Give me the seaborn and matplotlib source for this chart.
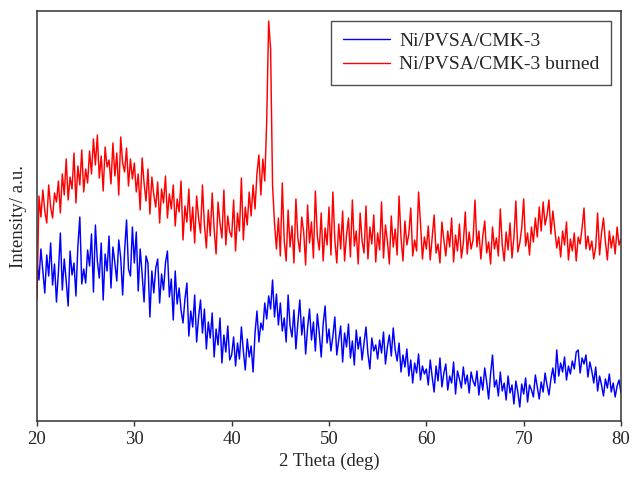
import matplotlib
matplotlib.use('Agg')
import matplotlib.pyplot as plt
import numpy as np
import pandas as pd
import seaborn as sns

# 2 theta grid, 0.2 deg step from 20 to 80
two_theta = np.round(np.arange(20, 80.001, 0.2), 1)

# intensity (a.u.), one row per 5 deg
plain = [
    160, 141, 172, 150, 128, 166, 145, 178, 136, 157, 119, 149, 188, 131, 162, 140, 115, 170, 146, 158, 125, 175, 204, 137, 152,
    138, 171, 155, 187, 129, 196, 160, 143, 178, 121, 167, 150, 185, 133, 174, 158, 140, 181, 163, 126, 170, 201, 152, 145, 194,
    158, 189, 130, 172, 147, 119, 165, 158, 104, 150, 128, 153, 162, 118, 147, 131, 158, 170, 124, 142, 101, 150, 117, 133, 111,
    98, 122, 138, 85, 110, 94, 126, 79, 104, 121, 88, 112, 72, 99, 83, 108, 64, 92, 76, 103, 58, 86, 69, 95, 61,
    66, 84, 55, 78, 62, 94, 70, 51, 82, 64, 75, 49, 88, 110, 79, 98, 91, 118, 102, 125, 112, 141, 104, 127, 96,
    118, 90, 103, 79, 126, 95, 84, 111, 72, 98, 121, 86, 104, 67, 93, 112, 81, 99, 70, 107, 88, 64, 97, 115, 78,
    92, 70, 85, 104, 66, 81, 95, 59, 88, 74, 97, 63, 80, 56, 91, 72, 84, 61, 78, 94, 67, 52, 83, 70, 76,
    62, 81, 68, 89, 57, 74, 86, 65, 93, 71, 60, 78, 49, 66, 54, 72, 45, 61, 38, 58, 48, 67, 41, 55, 47,
    52, 36, 61, 44, 29, 55, 40, 63, 34, 48, 57, 31, 45, 38, 59, 27, 50, 42, 33, 54, 37, 46, 28, 49, 40,
    35, 50, 26, 44, 31, 53, 39, 22, 47, 66, 34, 41, 25, 49, 30, 38, 21, 45, 28, 36, 17, 40, 29, 14, 37,
    27, 43, 19, 36, 31, 24, 46, 34, 22, 39, 29, 48, 36, 26, 42, 53, 38, 71, 45, 58, 49, 64, 41, 55, 47,
    60, 52, 69, 71, 48, 63, 57, 66, 44, 59, 50, 38, 54, 30, 45, 36, 25, 42, 33, 47, 29, 38, 24, 35, 41, 28,
]

burned = [
    122, 225, 204, 231, 210, 198, 236, 214, 203, 228, 219, 240, 208, 247, 226, 262, 221, 244, 232, 268, 218, 255, 236, 271, 229,
    252, 238, 270, 247, 282, 256, 286, 243, 265, 230, 274, 254, 261, 237, 278, 245, 268, 226, 284, 258, 249, 273, 235, 262, 242,
    258, 229, 247, 211, 263, 238, 220, 252, 207, 244, 226, 214, 239, 198, 232, 218, 245, 203, 227, 212, 236, 195, 222, 209, 240,
    181, 215, 199, 232, 190, 214, 178, 225, 203, 188, 236, 196, 173, 211, 185, 228, 192, 167, 219, 198, 183, 231, 176, 205, 189,
    184, 221, 170, 208, 190, 243, 181, 214, 196, 229, 205, 236, 212, 248, 266, 226, 262, 240, 300, 400, 372, 236, 198, 172, 203,
    165, 238, 180, 160, 211, 174, 195, 158, 222, 183, 169, 204, 189, 156, 216, 178, 199, 163, 230, 185, 171, 208, 160, 193, 176,
    214, 166, 229, 181, 158, 197, 172, 210, 160, 186, 203, 164, 221, 175, 190, 157, 208, 180, 168, 215, 162, 194, 177, 206, 159,
    188, 171, 219, 163, 196, 180, 157, 205, 174, 192, 166, 225, 183, 160, 200, 176, 187, 213, 165, 181, 170, 229, 198, 162, 184,
    172, 195, 161, 183, 206, 168, 177, 158, 199, 181, 165, 190, 174, 203, 159, 186, 170, 197, 163, 178, 209, 167, 189, 172, 181,
    221, 174, 190, 162, 185, 200, 168, 179, 157, 194, 172, 183, 165, 212, 176, 160, 189, 171, 198, 163, 184, 220, 169, 178, 193,
    222, 175, 188, 166, 194, 179, 203, 184, 214, 190, 219, 196, 206, 221, 187, 210, 192, 173, 184, 164, 190, 176, 199, 161, 182,
    170, 188, 160, 184, 177, 193, 213, 172, 185, 171, 180, 162, 174, 208, 166, 188, 203, 179, 161, 190, 173, 185, 167, 194, 176, 182,
]

labels = ['Ni/PVSA/CMK-3', 'Ni/PVSA/CMK-3 burned']
colors = ['#0000ff', '#ff0000']

df = pd.concat([
    pd.DataFrame({'theta': two_theta, 'intensity': plain, 'sample': labels[0]}),
    pd.DataFrame({'theta': two_theta, 'intensity': burned, 'sample': labels[1]}),
])

sns.set_style('ticks')
plt.rcParams['font.family'] = ['Liberation Serif', 'DejaVu Serif']
plt.rcParams['font.size'] = 13.5

fig = plt.figure(figsize=(6.32, 4.84), dpi=100)
ax = fig.add_axes([37 / 632, 63 / 484, 584 / 632, 410 / 484])

sns.lineplot(data=df, x='theta', y='intensity', hue='sample', hue_order=labels,
             palette=colors, linewidth=1.05, estimator=None, sort=False, ax=ax)

ax.set_xlim(20, 80)
ax.set_ylim(0, 410)
ax.set_xticks(range(20, 81, 10))
ax.set_yticks([])
ax.tick_params(axis='x', direction='out', length=3.5, width=1, color='#333333', labelsize=13.5, pad=4)
for s in ax.spines.values():
    s.set_color('#333333')
    s.set_linewidth(1.1)

ax.set_xlabel('2 Theta (deg)', fontsize=13.5, labelpad=3)
ax.set_ylabel('Intensity/ a.u.', fontsize=13.5, labelpad=7)

leg = ax.legend(loc='upper right', fontsize=14, frameon=True, fancybox=False,
                borderaxespad=0.5, handlelength=2.4, handletextpad=0.5,
                labelspacing=0.3, borderpad=0.6)
leg.get_frame().set_edgecolor('#222222')
leg.get_frame().set_linewidth(1.0)
for line in leg.get_lines():
    line.set_linewidth(1.0)

fig.savefig('out.png', dpi=100)
